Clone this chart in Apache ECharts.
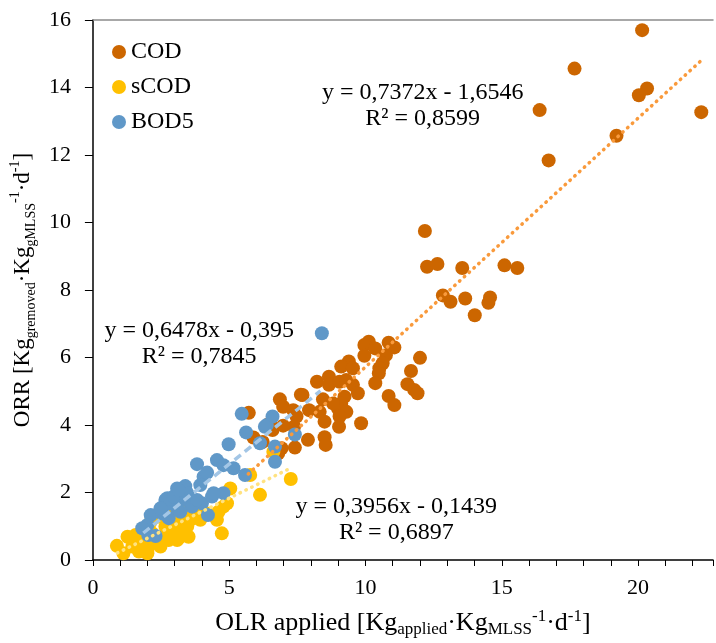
<!DOCTYPE html>
<html>
<head>
<meta charset="utf-8">
<script src="https://cdn.jsdelivr.net/npm/echarts@6/dist/echarts.min.js"></script>
<style>
html,body{margin:0;padding:0;background:#fff;}
#chart{width:716px;height:643px;}
</style>
</head>
<body>
<div id="chart"></div>
<script>
// ---- Data ----
const seriesNames = ['COD', 'sCOD', 'BOD5'];

const codPoints = [
  [20.15,15.70],[17.67,14.56],[20.33,13.97],[20.03,13.77],[16.39,13.33],[22.32,13.27],[19.21,12.57],[16.72,11.84],
  [12.18,9.75],[12.26,8.69],[12.64,8.77],[13.55,8.65],[15.10,8.73],[15.57,8.65],[12.84,7.84],[13.12,7.65],
  [13.66,7.75],[14.57,7.78],[14.51,7.62],[14.01,7.25],
  [10.12,6.47],[9.96,6.37],[10.36,6.27],[10.85,6.44],[11.06,6.30],[12.00,5.99],[9.96,6.05],[10.75,6.07],
  [10.63,5.83],[10.51,5.68],[10.49,5.53],[10.36,5.24],[9.39,5.88],[9.11,5.73],[9.54,5.68],[11.67,5.60],
  [11.54,5.21],[11.79,5.04],[11.91,4.94],[8.22,5.28],[8.66,5.43],[8.66,5.19],[9.05,5.28],[9.29,5.33],
  [9.54,5.19],[9.72,4.94],[7.69,4.89],[10.85,4.86],[11.06,4.59],[8.44,4.76],[9.23,4.84],[9.11,4.64],
  [8.99,4.49],[9.30,4.39],[8.81,4.64],[7.93,4.44],[8.32,4.39],[8.50,4.10],[9.05,4.25],[9.03,3.95],
  [9.84,4.05],[7.89,3.56],[8.50,3.64],[8.54,3.41],
  [5.72,4.36],[5.89,3.63],[6.23,3.50],[6.59,3.85],[6.50,4.05],[6.86,4.76],[6.98,4.54],[7.35,4.44],
  [7.47,4.25],[7.38,3.95],[6.98,3.98],[7.63,4.90],[6.92,3.31],[7.41,3.33],[6.80,3.16]
];

const scodPoints = [
  [0.88,0.42],[1.12,0.20],[1.27,0.69],[1.57,0.74],[1.63,0.54],[1.45,0.40],[1.69,0.25],[2.00,0.20],
  [2.05,0.40],[1.93,0.59],[2.18,0.79],[2.48,0.40],[2.36,0.64],[2.60,0.69],[2.78,0.59],[2.85,0.89],
  [3.09,0.84],[3.21,0.69],[3.09,0.59],[2.66,0.99],[3.21,1.04],[3.46,0.99],[3.58,1.19],[3.70,1.28],
  [3.58,1.48],[3.09,1.28],[3.33,1.38],[3.21,1.58],[3.33,0.74],[3.51,0.69],[3.88,1.48],[4.06,1.33],
  [4.19,1.38],[4.61,1.43],[4.79,1.58],[4.92,1.68],[4.55,1.19],[5.04,2.12],[4.73,0.79],[6.13,1.93],
  [5.77,2.52],[3.94,1.19],[2.78,1.48],[2.91,1.19],[2.36,1.28],[2.12,1.13],[7.26,2.40],[6.62,3.21]
];

const bodPoints = [
  [5.46,4.33],[6.59,4.25],[6.38,4.00],[5.62,3.78],[6.13,3.46],[6.68,3.36],[6.68,2.91],[4.98,3.43],
  [3.82,2.84],[4.55,2.96],[4.79,2.81],[5.16,2.72],[5.58,2.52],[4.06,2.47],[4.19,2.59],[3.94,2.22],
  [3.09,2.12],[3.39,2.19],[3.46,1.98],[2.73,1.83],[2.85,1.68],[2.60,1.58],[3.21,1.78],[3.58,1.68],
  [4.00,1.68],[4.37,1.88],[4.79,1.98],[2.54,1.38],[2.78,1.24],[2.12,1.33],[2.00,1.04],[1.81,0.94],
  [2.30,0.71],[4.22,1.33],[3.64,1.58],[3.09,1.53],[8.40,6.72],[7.41,3.72],[2.03,0.74],[6.31,3.95],
  [2.66,1.78],[2.97,1.88],[3.15,2.07],[2.48,1.53],[3.21,1.43],[3.82,1.78],[4.43,1.98]
];

// Trendline end points (from the displayed regression equations, over each series' x range)
const codTrend  = [[5.70, 2.55], [22.40, 14.86]];
const scodTrend = [[0.90, 0.21], [7.25, 2.72]];
const bodTrend  = [[1.85, 0.80], [8.35, 5.01]];

// Equation annotations: text and anchor (data coordinates)
const codEq  = ['y = 0,7372x - 1,6546', 'R² = 0,8599'];
const scodEq = ['y = 0,3956x - 0,1439', 'R² = 0,6897'];
const bodEq  = ['y = 0,6478x - 0,395',  'R² = 0,7845'];
const codEqAt  = [12.1, 13.47];
const scodEqAt = [11.13, 1.19];
const bodEqAt  = [3.9, 6.41];

// Axis ticks
const xTickLabels = [0, 5, 10, 15, 20];
const yTickLabels = [0, 2, 4, 6, 8, 10, 12, 14, 16];

// ---- Chart ----
const FONT = 'Liberation Serif';
const colors = { cod: '#CC6600', scod: '#FFC000', bod: '#6098C8' };

function richName(size, subSize) {
  return {
    n:   { fontFamily: FONT, fontSize: size, color: '#000', lineHeight: 30, verticalAlign: 'middle' },
    sub: { fontFamily: FONT, fontSize: subSize, color: '#000', lineHeight: 14, verticalAlign: 'bottom' },
    sup: { fontFamily: FONT, fontSize: subSize, color: '#000', lineHeight: 18, verticalAlign: 'top' }
  };
}

function eqMark(lines, at) {
  return {
    silent: true,
    symbol: 'circle',
    symbolSize: 0,
    data: [{ coord: at }],
    label: {
      show: true,
      position: 'inside',
      formatter: lines.join('\n'),
      fontFamily: FONT,
      fontSize: 24,
      lineHeight: 26,
      color: '#000',
      align: 'center'
    }
  };
}

const chart = echarts.init(document.getElementById('chart'), null, { renderer: 'canvas' });

chart.setOption({
  animation: false,
  backgroundColor: '#fff',
  grid: { left: 92, right: 0, top: 20, bottom: 83, containLabel: false },
  legend: {
    data: seriesNames,
    orient: 'vertical',
    left: 112,
    top: 40,
    padding: 0,
    itemGap: 11,
    itemWidth: 14,
    itemHeight: 14,
    icon: 'circle',
    textStyle: { fontFamily: FONT, fontSize: 24, color: '#000' }
  },
  xAxis: [{
    type: 'value',
    min: 0,
    max: 22.75,
    interval: 1,
    name: '{n|OLR applied [Kg}{sub|applied}{n|·Kg}{sub|MLSS}{sup|-1}{n|·d}{sup|-1}{n|]}',
    nameLocation: 'middle',
    nameGap: 48,
    nameTextStyle: { rich: richName(26, 17) },
    axisLine: { show: true, lineStyle: { color: '#000', width: 1.5 } },
    axisTick: { show: true, inside: false, length: 6, lineStyle: { color: '#000', width: 1 } },
    axisLabel: {
      fontFamily: FONT, fontSize: 22, color: '#000', margin: 17,
      formatter: v => (xTickLabels.indexOf(v) >= 0 ? String(v) : '')
    },
    splitLine: { show: false }
  }, {
    type: 'value',
    position: 'top',
    min: 0,
    max: 22.75,
    axisLine: { show: true, onZero: false, lineStyle: { color: '#8c8c8c', width: 1.5 } },
    axisTick: { show: false },
    axisLabel: { show: false },
    splitLine: { show: false }
  }],
  yAxis: {
    type: 'value',
    min: 0,
    max: 16,
    interval: 2,
    name: '{n|ORR [Kg}{sub|gremoved}{n|·Kg}{sub|gMLSS}{sup|-1}{n|·d}{sup|-1}{n|]}',
    nameLocation: 'middle',
    nameRotate: 90,
    nameGap: 51,
    nameTextStyle: { rich: richName(23, 14) },
    axisLine: { show: true, lineStyle: { color: '#000', width: 1.5 } },
    axisTick: { show: true, inside: false, length: 8, lineStyle: { color: '#000', width: 1 } },
    axisLabel: {
      fontFamily: FONT, fontSize: 22, color: '#000', margin: 22,
      formatter: v => (yTickLabels.indexOf(v) >= 0 ? String(v) : '')
    },
    splitLine: { show: false }
  },
  series: [
    { name: 'COD',  type: 'scatter', data: codPoints,  symbolSize: 14, itemStyle: { color: colors.cod,  opacity: 1 }, z: 2 },
    { name: 'sCOD', type: 'scatter', data: scodPoints, symbolSize: 14, itemStyle: { color: colors.scod, opacity: 1 }, z: 3 },
    { name: 'BOD5', type: 'scatter', data: bodPoints,  symbolSize: 14, itemStyle: { color: colors.bod,  opacity: 1 }, z: 4 },
    {
      name: 'codTrend', type: 'line', data: codTrend, showSymbol: false, symbol: 'none', z: 6, silent: true,
      lineStyle: { color: '#F99A3C', width: 3.5, type: [0.5, 6], cap: 'round' },
      markPoint: eqMark(codEq, codEqAt)
    },
    {
      name: 'scodTrend', type: 'line', data: scodTrend, showSymbol: false, symbol: 'none', z: 6, silent: true,
      lineStyle: { color: '#FFE280', width: 3.5, type: [0.5, 6], cap: 'round' },
      markPoint: eqMark(scodEq, scodEqAt)
    },
    {
      name: 'bodTrend', type: 'line', data: bodTrend, showSymbol: false, symbol: 'none', z: 6, silent: true,
      lineStyle: { color: '#A3C6E6', width: 3.5, type: [8, 5], cap: 'butt' },
      markPoint: eqMark(bodEq, bodEqAt)
    }
  ]
});
</script>
</body>
</html>
